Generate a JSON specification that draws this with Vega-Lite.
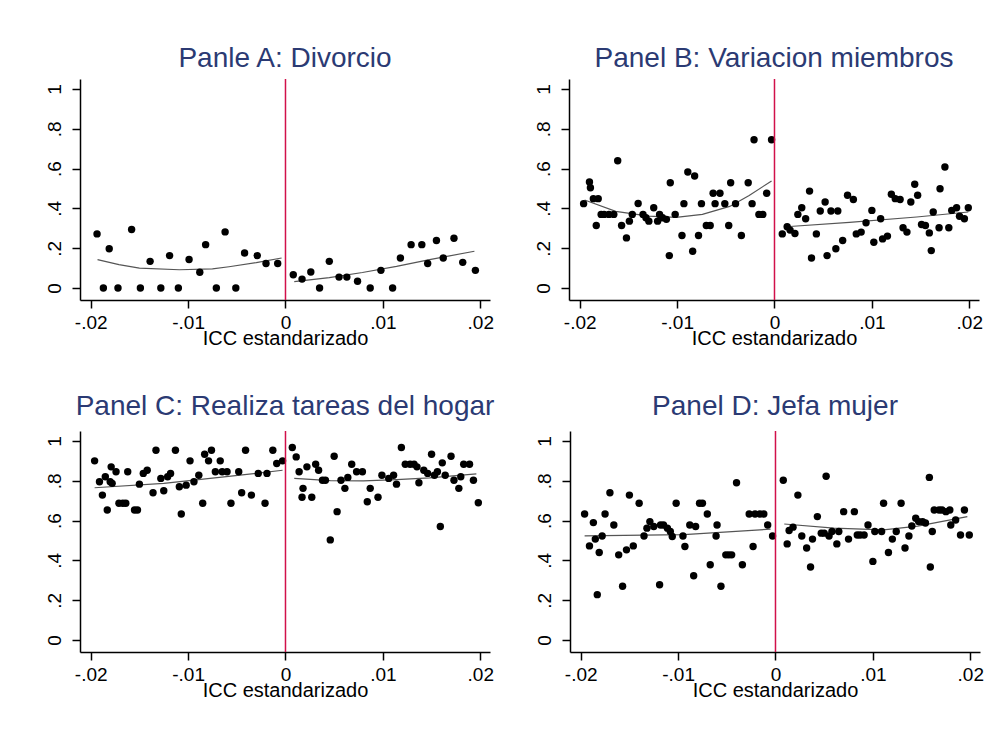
{
  "$schema": "https://vega.github.io/schema/vega-lite/v6.json",
  "background": "white",
  "padding": {"left": 45, "top": 45, "right": 5, "bottom": 5},
  "config": {
    "view": {"stroke": null},
    "font": "Liberation Sans",
    "axis": {"grid": false, "domainColor": "black", "tickColor": "black", "labelColor": "black", "titleColor": "black", "labelFont": "Liberation Sans", "titleFont": "Liberation Sans", "labelFontSize": 19, "titleFontSize": 20, "titleFontWeight": "normal", "tickSize": 8, "domainWidth": 1.5, "tickWidth": 1.5},
    "title": {"font": "Liberation Sans", "fontSize": 28, "fontWeight": "normal", "color": "#2b3a73", "anchor": "middle"}
  },
  "datasets": {
    "pts": [
      {"p":"A","x":-0.01935,"y":0.272},{"p":"A","x":-0.0187,"y":0},{"p":"A","x":-0.0181,"y":0.197},{"p":"A","x":-0.0172,"y":0},{"p":"A","x":-0.0158,"y":0.294},{"p":"A","x":-0.0149,"y":0},{"p":"A","x":-0.0139,"y":0.134},{"p":"A","x":-0.0128,"y":0},{"p":"A","x":-0.0119,"y":0.163},{"p":"A","x":-0.011,"y":0},{"p":"A","x":-0.0099,"y":0.143},{"p":"A","x":-0.0088,"y":0.079},{"p":"A","x":-0.0082,"y":0.218},{"p":"A","x":-0.0071,"y":0},{"p":"A","x":-0.0062,"y":0.282},{"p":"A","x":-0.0051,"y":0},{"p":"A","x":-0.0042,"y":0.176},{"p":"A","x":-0.0029,"y":0.163},{"p":"A","x":-0.002,"y":0.123},{"p":"A","x":-0.0008,"y":0.123},
      {"p":"A","x":0.0008,"y":0.067},{"p":"A","x":0.0017,"y":0.045},{"p":"A","x":0.0026,"y":0.081},{"p":"A","x":0.0035,"y":0},{"p":"A","x":0.0045,"y":0.134},{"p":"A","x":0.0055,"y":0.055},{"p":"A","x":0.0063,"y":0.055},{"p":"A","x":0.0074,"y":0.034},{"p":"A","x":0.0087,"y":0},{"p":"A","x":0.0098,"y":0.089},{"p":"A","x":0.011,"y":0},{"p":"A","x":0.0118,"y":0.151},{"p":"A","x":0.0129,"y":0.218},{"p":"A","x":0.014,"y":0.218},{"p":"A","x":0.0146,"y":0.123},{"p":"A","x":0.0155,"y":0.239},{"p":"A","x":0.0162,"y":0.151},{"p":"A","x":0.0173,"y":0.25},{"p":"A","x":0.0182,"y":0.129},{"p":"A","x":0.0195,"y":0.089},

      {"p":"B","x":-0.0196,"y":0.424},{"p":"B","x":-0.019,"y":0.533},{"p":"B","x":-0.0189,"y":0.504},{"p":"B","x":-0.0186,"y":0.449},{"p":"B","x":-0.0181,"y":0.449},{"p":"B","x":-0.0183,"y":0.314},{"p":"B","x":-0.0178,"y":0.37},{"p":"B","x":-0.0175,"y":0.37},{"p":"B","x":-0.017,"y":0.37},{"p":"B","x":-0.0165,"y":0.37},{"p":"B","x":-0.0161,"y":0.639},{"p":"B","x":-0.0157,"y":0.314},{"p":"B","x":-0.0152,"y":0.252},{"p":"B","x":-0.0149,"y":0.336},{"p":"B","x":-0.0146,"y":0.37},{"p":"B","x":-0.014,"y":0.425},{"p":"B","x":-0.0135,"y":0.37},{"p":"B","x":-0.0132,"y":0.353},{"p":"B","x":-0.0129,"y":0.336},{"p":"B","x":-0.0124,"y":0.403},{"p":"B","x":-0.012,"y":0.336},{"p":"B","x":-0.0118,"y":0.37},{"p":"B","x":-0.0115,"y":0.353},{"p":"B","x":-0.0111,"y":0.345},{"p":"B","x":-0.0108,"y":0.163},{"p":"B","x":-0.0107,"y":0.529},{"p":"B","x":-0.0102,"y":0.37},{"p":"B","x":-0.0095,"y":0.264},{"p":"B","x":-0.0093,"y":0.424},{"p":"B","x":-0.0089,"y":0.583},{"p":"B","x":-0.0084,"y":0.185},{"p":"B","x":-0.0082,"y":0.563},{"p":"B","x":-0.0078,"y":0.264},{"p":"B","x":-0.0075,"y":0.424},{"p":"B","x":-0.007,"y":0.314},{"p":"B","x":-0.0066,"y":0.314},{"p":"B","x":-0.0063,"y":0.476},{"p":"B","x":-0.0061,"y":0.424},{"p":"B","x":-0.0056,"y":0.476},{"p":"B","x":-0.0051,"y":0.424},{"p":"B","x":-0.0047,"y":0.314},{"p":"B","x":-0.0045,"y":0.529},{"p":"B","x":-0.004,"y":0.424},{"p":"B","x":-0.0034,"y":0.264},{"p":"B","x":-0.0027,"y":0.529},{"p":"B","x":-0.0023,"y":0.424},{"p":"B","x":-0.0021,"y":0.745},{"p":"B","x":-0.0016,"y":0.37},{"p":"B","x":-0.0012,"y":0.37},{"p":"B","x":-0.0008,"y":0.476},{"p":"B","x":-0.0003,"y":0.745},
      {"p":"B","x":0.0008,"y":0.272},{"p":"B","x":0.0013,"y":0.308},{"p":"B","x":0.0016,"y":0.291},{"p":"B","x":0.0021,"y":0.274},{"p":"B","x":0.0024,"y":0.37},{"p":"B","x":0.0028,"y":0.403},{"p":"B","x":0.0032,"y":0.348},{"p":"B","x":0.0036,"y":0.487},{"p":"B","x":0.0038,"y":0.151},{"p":"B","x":0.0043,"y":0.272},{"p":"B","x":0.0047,"y":0.387},{"p":"B","x":0.0052,"y":0.432},{"p":"B","x":0.0054,"y":0.163},{"p":"B","x":0.0058,"y":0.387},{"p":"B","x":0.0063,"y":0.197},{"p":"B","x":0.0065,"y":0.387},{"p":"B","x":0.007,"y":0.239},{"p":"B","x":0.0075,"y":0.466},{"p":"B","x":0.0081,"y":0.445},{"p":"B","x":0.0084,"y":0.272},{"p":"B","x":0.0089,"y":0.281},{"p":"B","x":0.0094,"y":0.328},{"p":"B","x":0.01,"y":0.39},{"p":"B","x":0.0102,"y":0.23},{"p":"B","x":0.0109,"y":0.348},{"p":"B","x":0.0111,"y":0.247},{"p":"B","x":0.0116,"y":0.261},{"p":"B","x":0.012,"y":0.471},{"p":"B","x":0.0124,"y":0.449},{"p":"B","x":0.0129,"y":0.445},{"p":"B","x":0.0132,"y":0.303},{"p":"B","x":0.0136,"y":0.281},{"p":"B","x":0.014,"y":0.432},{"p":"B","x":0.0144,"y":0.521},{"p":"B","x":0.0147,"y":0.466},{"p":"B","x":0.0151,"y":0.319},{"p":"B","x":0.0155,"y":0.314},{"p":"B","x":0.0159,"y":0.277},{"p":"B","x":0.0161,"y":0.188},{"p":"B","x":0.0163,"y":0.382},{"p":"B","x":0.0169,"y":0.303},{"p":"B","x":0.017,"y":0.499},{"p":"B","x":0.0175,"y":0.608},{"p":"B","x":0.0179,"y":0.303},{"p":"B","x":0.0182,"y":0.39},{"p":"B","x":0.0187,"y":0.403},{"p":"B","x":0.019,"y":0.361},{"p":"B","x":0.0195,"y":0.348},{"p":"B","x":0.0199,"y":0.403},

      {"p":"C","x":-0.0196,"y":0.9},{"p":"C","x":-0.0191,"y":0.795},{"p":"C","x":-0.0188,"y":0.728},{"p":"C","x":-0.0185,"y":0.82},{"p":"C","x":-0.0183,"y":0.653},{"p":"C","x":-0.018,"y":0.795},{"p":"C","x":-0.0178,"y":0.787},{"p":"C","x":-0.0179,"y":0.87},{"p":"C","x":-0.0174,"y":0.845},{"p":"C","x":-0.0171,"y":0.687},{"p":"C","x":-0.0167,"y":0.687},{"p":"C","x":-0.0164,"y":0.687},{"p":"C","x":-0.0162,"y":0.845},{"p":"C","x":-0.0155,"y":0.653},{"p":"C","x":-0.0152,"y":0.653},{"p":"C","x":-0.015,"y":0.783},{"p":"C","x":-0.0146,"y":0.837},{"p":"C","x":-0.0142,"y":0.853},{"p":"C","x":-0.0136,"y":0.74},{"p":"C","x":-0.0133,"y":0.953},{"p":"C","x":-0.0128,"y":0.812},{"p":"C","x":-0.0125,"y":0.75},{"p":"C","x":-0.0121,"y":0.82},{"p":"C","x":-0.0118,"y":0.837},{"p":"C","x":-0.0113,"y":0.953},{"p":"C","x":-0.0109,"y":0.77},{"p":"C","x":-0.0107,"y":0.633},{"p":"C","x":-0.0102,"y":0.778},{"p":"C","x":-0.0098,"y":0.9},{"p":"C","x":-0.0094,"y":0.795},{"p":"C","x":-0.0089,"y":0.828},{"p":"C","x":-0.0085,"y":0.687},{"p":"C","x":-0.0083,"y":0.933},{"p":"C","x":-0.0079,"y":0.9},{"p":"C","x":-0.0076,"y":0.953},{"p":"C","x":-0.0072,"y":0.845},{"p":"C","x":-0.0067,"y":0.9},{"p":"C","x":-0.0065,"y":0.845},{"p":"C","x":-0.006,"y":0.845},{"p":"C","x":-0.0056,"y":0.687},{"p":"C","x":-0.0048,"y":0.845},{"p":"C","x":-0.0045,"y":0.74},{"p":"C","x":-0.0041,"y":0.953},{"p":"C","x":-0.0035,"y":0.728},{"p":"C","x":-0.0028,"y":0.837},{"p":"C","x":-0.0021,"y":0.687},{"p":"C","x":-0.0019,"y":0.837},{"p":"C","x":-0.0013,"y":0.953},{"p":"C","x":-0.0009,"y":0.887},{"p":"C","x":-0.0003,"y":0.9},
      {"p":"C","x":0.0007,"y":0.967},{"p":"C","x":0.0011,"y":0.92},{"p":"C","x":0.0014,"y":0.845},{"p":"C","x":0.0018,"y":0.762},{"p":"C","x":0.0017,"y":0.717},{"p":"C","x":0.0022,"y":0.87},{"p":"C","x":0.0027,"y":0.717},{"p":"C","x":0.0031,"y":0.883},{"p":"C","x":0.0034,"y":0.853},{"p":"C","x":0.0038,"y":0.803},{"p":"C","x":0.0041,"y":0.803},{"p":"C","x":0.0046,"y":0.503},{"p":"C","x":0.005,"y":0.923},{"p":"C","x":0.0053,"y":0.645},{"p":"C","x":0.0057,"y":0.803},{"p":"C","x":0.0061,"y":0.762},{"p":"C","x":0.0064,"y":0.817},{"p":"C","x":0.0068,"y":0.883},{"p":"C","x":0.0073,"y":0.845},{"p":"C","x":0.0079,"y":0.845},{"p":"C","x":0.0084,"y":0.695},{"p":"C","x":0.0087,"y":0.762},{"p":"C","x":0.0095,"y":0.717},{"p":"C","x":0.0099,"y":0.828},{"p":"C","x":0.0106,"y":0.812},{"p":"C","x":0.0111,"y":0.828},{"p":"C","x":0.0114,"y":0.783},{"p":"C","x":0.0119,"y":0.967},{"p":"C","x":0.0123,"y":0.883},{"p":"C","x":0.0128,"y":0.883},{"p":"C","x":0.0132,"y":0.883},{"p":"C","x":0.0135,"y":0.87},{"p":"C","x":0.0137,"y":0.79},{"p":"C","x":0.0142,"y":0.853},{"p":"C","x":0.0146,"y":0.837},{"p":"C","x":0.015,"y":0.933},{"p":"C","x":0.0153,"y":0.828},{"p":"C","x":0.0156,"y":0.845},{"p":"C","x":0.0159,"y":0.57},{"p":"C","x":0.0161,"y":0.89},{"p":"C","x":0.0164,"y":0.828},{"p":"C","x":0.017,"y":0.923},{"p":"C","x":0.0173,"y":0.803},{"p":"C","x":0.0178,"y":0.762},{"p":"C","x":0.018,"y":0.82},{"p":"C","x":0.0183,"y":0.883},{"p":"C","x":0.0189,"y":0.883},{"p":"C","x":0.0193,"y":0.803},{"p":"C","x":0.0198,"y":0.69},

      {"p":"D","x":-0.0196,"y":0.633},{"p":"D","x":-0.0191,"y":0.473},{"p":"D","x":-0.0187,"y":0.59},{"p":"D","x":-0.0185,"y":0.507},{"p":"D","x":-0.0183,"y":0.228},{"p":"D","x":-0.0181,"y":0.44},{"p":"D","x":-0.0178,"y":0.523},{"p":"D","x":-0.0175,"y":0.633},{"p":"D","x":-0.017,"y":0.74},{"p":"D","x":-0.0166,"y":0.578},{"p":"D","x":-0.0161,"y":0.428},{"p":"D","x":-0.0157,"y":0.27},{"p":"D","x":-0.0153,"y":0.453},{"p":"D","x":-0.015,"y":0.728},{"p":"D","x":-0.0146,"y":0.473},{"p":"D","x":-0.014,"y":0.687},{"p":"D","x":-0.0135,"y":0.523},{"p":"D","x":-0.0132,"y":0.562},{"p":"D","x":-0.0129,"y":0.595},{"p":"D","x":-0.0125,"y":0.57},{"p":"D","x":-0.0119,"y":0.278},{"p":"D","x":-0.0118,"y":0.578},{"p":"D","x":-0.0115,"y":0.578},{"p":"D","x":-0.0111,"y":0.562},{"p":"D","x":-0.0108,"y":0.545},{"p":"D","x":-0.0106,"y":0.52},{"p":"D","x":-0.0102,"y":0.687},{"p":"D","x":-0.0095,"y":0.523},{"p":"D","x":-0.0093,"y":0.47},{"p":"D","x":-0.0088,"y":0.578},{"p":"D","x":-0.0084,"y":0.323},{"p":"D","x":-0.0082,"y":0.57},{"p":"D","x":-0.0078,"y":0.687},{"p":"D","x":-0.0075,"y":0.687},{"p":"D","x":-0.007,"y":0.633},{"p":"D","x":-0.0067,"y":0.378},{"p":"D","x":-0.0061,"y":0.523},{"p":"D","x":-0.006,"y":0.578},{"p":"D","x":-0.0056,"y":0.27},{"p":"D","x":-0.0051,"y":0.428},{"p":"D","x":-0.0048,"y":0.428},{"p":"D","x":-0.0045,"y":0.428},{"p":"D","x":-0.004,"y":0.79},{"p":"D","x":-0.0034,"y":0.378},{"p":"D","x":-0.0027,"y":0.633},{"p":"D","x":-0.0023,"y":0.47},{"p":"D","x":-0.0021,"y":0.633},{"p":"D","x":-0.0016,"y":0.633},{"p":"D","x":-0.0012,"y":0.633},{"p":"D","x":-0.0008,"y":0.578},{"p":"D","x":-0.0003,"y":0.523},
      {"p":"D","x":0.0008,"y":0.803},{"p":"D","x":0.0012,"y":0.483},{"p":"D","x":0.0014,"y":0.55},{"p":"D","x":0.0018,"y":0.567},{"p":"D","x":0.0023,"y":0.728},{"p":"D","x":0.0027,"y":0.523},{"p":"D","x":0.0032,"y":0.462},{"p":"D","x":0.0036,"y":0.367},{"p":"D","x":0.0038,"y":0.507},{"p":"D","x":0.0043,"y":0.62},{"p":"D","x":0.0047,"y":0.537},{"p":"D","x":0.005,"y":0.537},{"p":"D","x":0.0052,"y":0.823},{"p":"D","x":0.0055,"y":0.523},{"p":"D","x":0.0058,"y":0.545},{"p":"D","x":0.0063,"y":0.483},{"p":"D","x":0.0065,"y":0.545},{"p":"D","x":0.007,"y":0.645},{"p":"D","x":0.0075,"y":0.507},{"p":"D","x":0.0081,"y":0.645},{"p":"D","x":0.0084,"y":0.528},{"p":"D","x":0.0087,"y":0.528},{"p":"D","x":0.0091,"y":0.528},{"p":"D","x":0.0095,"y":0.578},{"p":"D","x":0.01,"y":0.395},{"p":"D","x":0.0102,"y":0.545},{"p":"D","x":0.0109,"y":0.545},{"p":"D","x":0.0111,"y":0.687},{"p":"D","x":0.0116,"y":0.44},{"p":"D","x":0.012,"y":0.507},{"p":"D","x":0.0124,"y":0.545},{"p":"D","x":0.0129,"y":0.687},{"p":"D","x":0.0133,"y":0.462},{"p":"D","x":0.0137,"y":0.523},{"p":"D","x":0.014,"y":0.573},{"p":"D","x":0.0144,"y":0.612},{"p":"D","x":0.0147,"y":0.595},{"p":"D","x":0.0151,"y":0.595},{"p":"D","x":0.0154,"y":0.588},{"p":"D","x":0.0158,"y":0.817},{"p":"D","x":0.0159,"y":0.367},{"p":"D","x":0.0161,"y":0.545},{"p":"D","x":0.0163,"y":0.653},{"p":"D","x":0.0168,"y":0.653},{"p":"D","x":0.0171,"y":0.653},{"p":"D","x":0.0175,"y":0.645},{"p":"D","x":0.0179,"y":0.653},{"p":"D","x":0.018,"y":0.578},{"p":"D","x":0.0185,"y":0.603},{"p":"D","x":0.019,"y":0.528},{"p":"D","x":0.0194,"y":0.653},{"p":"D","x":0.0199,"y":0.528}
    ],
    "fit": [
      {"p":"A","s":"L","x":-0.0193,"y":0.143},{"p":"A","s":"L","x":-0.0171,"y":0.118},{"p":"A","s":"L","x":-0.015,"y":0.1},{"p":"A","s":"L","x":-0.0109,"y":0.092},{"p":"A","s":"L","x":-0.0075,"y":0.096},{"p":"A","s":"L","x":-0.0058,"y":0.107},{"p":"A","s":"L","x":-0.003,"y":0.128},{"p":"A","s":"L","x":-0.0004,"y":0.151},
      {"p":"A","s":"R","x":0.0009,"y":0.032},{"p":"A","s":"R","x":0.0045,"y":0.052},{"p":"A","s":"R","x":0.0079,"y":0.078},{"p":"A","s":"R","x":0.0114,"y":0.109},{"p":"A","s":"R","x":0.0148,"y":0.143},{"p":"A","s":"R","x":0.0194,"y":0.185},
      {"p":"B","s":"L","x":-0.0195,"y":0.442},{"p":"B","s":"L","x":-0.0163,"y":0.385},{"p":"B","s":"L","x":-0.0129,"y":0.361},{"p":"B","s":"L","x":-0.0101,"y":0.355},{"p":"B","s":"L","x":-0.0074,"y":0.37},{"p":"B","s":"L","x":-0.0046,"y":0.41},{"p":"B","s":"L","x":-0.0026,"y":0.465},{"p":"B","s":"L","x":-0.0003,"y":0.538},
      {"p":"B","s":"R","x":0.0012,"y":0.308},{"p":"B","s":"R","x":0.0077,"y":0.33},{"p":"B","s":"R","x":0.0146,"y":0.357},{"p":"B","s":"R","x":0.0199,"y":0.382},
      {"p":"C","s":"L","x":-0.0196,"y":0.765},{"p":"C","s":"L","x":-0.0125,"y":0.787},{"p":"C","s":"L","x":-0.0056,"y":0.823},{"p":"C","s":"L","x":-0.0003,"y":0.853},
      {"p":"C","s":"R","x":0.0009,"y":0.812},{"p":"C","s":"R","x":0.0046,"y":0.801},{"p":"C","s":"R","x":0.008,"y":0.8},{"p":"C","s":"R","x":0.0114,"y":0.806},{"p":"C","s":"R","x":0.0148,"y":0.815},{"p":"C","s":"R","x":0.0196,"y":0.835},
      {"p":"D","s":"L","x":-0.0196,"y":0.523},{"p":"D","s":"L","x":-0.0094,"y":0.53},{"p":"D","s":"L","x":-0.0005,"y":0.557},
      {"p":"D","s":"R","x":0.0009,"y":0.583},{"p":"D","s":"R","x":0.006,"y":0.562},{"p":"D","s":"R","x":0.0111,"y":0.553},{"p":"D","s":"R","x":0.0146,"y":0.572},{"p":"D","s":"R","x":0.0197,"y":0.62}
    ]
  },
  "vconcat": [
    {
      "spacing": 40,
      "hconcat": [
        {
          "width": 410, "height": 221,
          "title": {"text": "Panle A: Divorcio", "offset": 5},
          "layer": [
            {"data": {"name": "fit"}, "transform": [{"filter": "datum.p == 'A'"}], "mark": {"type": "line", "color": "#555555", "strokeWidth": 1.2}, "encoding": {"x": {"field": "x", "type": "quantitative", "scale": {"domain": [-0.0211, 0.021], "nice": false, "zero": false}, "axis": {"values": [-0.02, -0.01, 0, 0.01, 0.02], "labelExpr": "datum.value == 0 ? '0' : (datum.value < 0 ? '-' : '') + '.0' + toString(round(abs(datum.value) * 100))", "title": "ICC estandarizado", "labelPadding": 5, "titlePadding": -4, "labelFlush": false}}, "y": {"field": "y", "type": "quantitative", "scale": {"domain": [-0.06, 1.05], "nice": false, "zero": false}, "axis": {"values": [0, 0.2, 0.4, 0.6, 0.8, 1], "labelExpr": "datum.value == 0 ? '0' : datum.value == 1 ? '1' : '.' + toString(round(datum.value * 10))", "labelAngle": 270, "labelPadding": 8, "title": null}}, "detail": {"field": "s"}}},
            {"data": {"name": "pts"}, "transform": [{"filter": "datum.p == 'A'"}], "mark": {"type": "circle", "size": 55, "color": "black", "opacity": 1}, "encoding": {"x": {"field": "x", "type": "quantitative"}, "y": {"field": "y", "type": "quantitative"}}},
            {"data": {"values": [{}]}, "mark": {"type": "rule", "color": "#d1104a", "strokeWidth": 1.5}, "encoding": {"x": {"datum": 0, "type": "quantitative"}}}
          ]
        },
        {
          "width": 410, "height": 221,
          "title": {"text": "Panel B: Variacion miembros", "offset": 5},
          "layer": [
            {"data": {"name": "fit"}, "transform": [{"filter": "datum.p == 'B'"}], "mark": {"type": "line", "color": "#555555", "strokeWidth": 1.2}, "encoding": {"x": {"field": "x", "type": "quantitative", "scale": {"domain": [-0.0211, 0.021], "nice": false, "zero": false}, "axis": {"values": [-0.02, -0.01, 0, 0.01, 0.02], "labelExpr": "datum.value == 0 ? '0' : (datum.value < 0 ? '-' : '') + '.0' + toString(round(abs(datum.value) * 100))", "title": "ICC estandarizado", "labelPadding": 5, "titlePadding": -4, "labelFlush": false}}, "y": {"field": "y", "type": "quantitative", "scale": {"domain": [-0.06, 1.05], "nice": false, "zero": false}, "axis": {"values": [0, 0.2, 0.4, 0.6, 0.8, 1], "labelExpr": "datum.value == 0 ? '0' : datum.value == 1 ? '1' : '.' + toString(round(datum.value * 10))", "labelAngle": 270, "labelPadding": 8, "title": null}}, "detail": {"field": "s"}}},
            {"data": {"name": "pts"}, "transform": [{"filter": "datum.p == 'B'"}], "mark": {"type": "circle", "size": 55, "color": "black", "opacity": 1}, "encoding": {"x": {"field": "x", "type": "quantitative"}, "y": {"field": "y", "type": "quantitative"}}},
            {"data": {"values": [{}]}, "mark": {"type": "rule", "color": "#d1104a", "strokeWidth": 1.5}, "encoding": {"x": {"datum": 0, "type": "quantitative"}}}
          ]
        }
      ]
    },
    {
      "spacing": 40,
      "hconcat": [
        {
          "width": 410, "height": 221,
          "title": {"text": "Panel C: Realiza tareas del hogar", "offset": 9},
          "layer": [
            {"data": {"name": "fit"}, "transform": [{"filter": "datum.p == 'C'"}], "mark": {"type": "line", "color": "#555555", "strokeWidth": 1.2}, "encoding": {"x": {"field": "x", "type": "quantitative", "scale": {"domain": [-0.0211, 0.021], "nice": false, "zero": false}, "axis": {"values": [-0.02, -0.01, 0, 0.01, 0.02], "labelExpr": "datum.value == 0 ? '0' : (datum.value < 0 ? '-' : '') + '.0' + toString(round(abs(datum.value) * 100))", "title": "ICC estandarizado", "labelPadding": 5, "titlePadding": -4, "labelFlush": false}}, "y": {"field": "y", "type": "quantitative", "scale": {"domain": [-0.06, 1.05], "nice": false, "zero": false}, "axis": {"values": [0, 0.2, 0.4, 0.6, 0.8, 1], "labelExpr": "datum.value == 0 ? '0' : datum.value == 1 ? '1' : '.' + toString(round(datum.value * 10))", "labelAngle": 270, "labelPadding": 8, "title": null}}, "detail": {"field": "s"}}},
            {"data": {"name": "pts"}, "transform": [{"filter": "datum.p == 'C'"}], "mark": {"type": "circle", "size": 55, "color": "black", "opacity": 1}, "encoding": {"x": {"field": "x", "type": "quantitative"}, "y": {"field": "y", "type": "quantitative"}}},
            {"data": {"values": [{}]}, "mark": {"type": "rule", "color": "#d1104a", "strokeWidth": 1.5}, "encoding": {"x": {"datum": 0, "type": "quantitative"}}}
          ]
        },
        {
          "width": 410, "height": 221,
          "title": {"text": "Panel D: Jefa mujer", "offset": 9},
          "layer": [
            {"data": {"name": "fit"}, "transform": [{"filter": "datum.p == 'D'"}], "mark": {"type": "line", "color": "#555555", "strokeWidth": 1.2}, "encoding": {"x": {"field": "x", "type": "quantitative", "scale": {"domain": [-0.0211, 0.021], "nice": false, "zero": false}, "axis": {"values": [-0.02, -0.01, 0, 0.01, 0.02], "labelExpr": "datum.value == 0 ? '0' : (datum.value < 0 ? '-' : '') + '.0' + toString(round(abs(datum.value) * 100))", "title": "ICC estandarizado", "labelPadding": 5, "titlePadding": -4, "labelFlush": false}}, "y": {"field": "y", "type": "quantitative", "scale": {"domain": [-0.06, 1.05], "nice": false, "zero": false}, "axis": {"values": [0, 0.2, 0.4, 0.6, 0.8, 1], "labelExpr": "datum.value == 0 ? '0' : datum.value == 1 ? '1' : '.' + toString(round(datum.value * 10))", "labelAngle": 270, "labelPadding": 8, "title": null}}, "detail": {"field": "s"}}},
            {"data": {"name": "pts"}, "transform": [{"filter": "datum.p == 'D'"}], "mark": {"type": "circle", "size": 55, "color": "black", "opacity": 1}, "encoding": {"x": {"field": "x", "type": "quantitative"}, "y": {"field": "y", "type": "quantitative"}}},
            {"data": {"values": [{}]}, "mark": {"type": "rule", "color": "#d1104a", "strokeWidth": 1.5}, "encoding": {"x": {"datum": 0, "type": "quantitative"}}}
          ]
        }
      ]
    }
  ],
  "spacing": 45
}
